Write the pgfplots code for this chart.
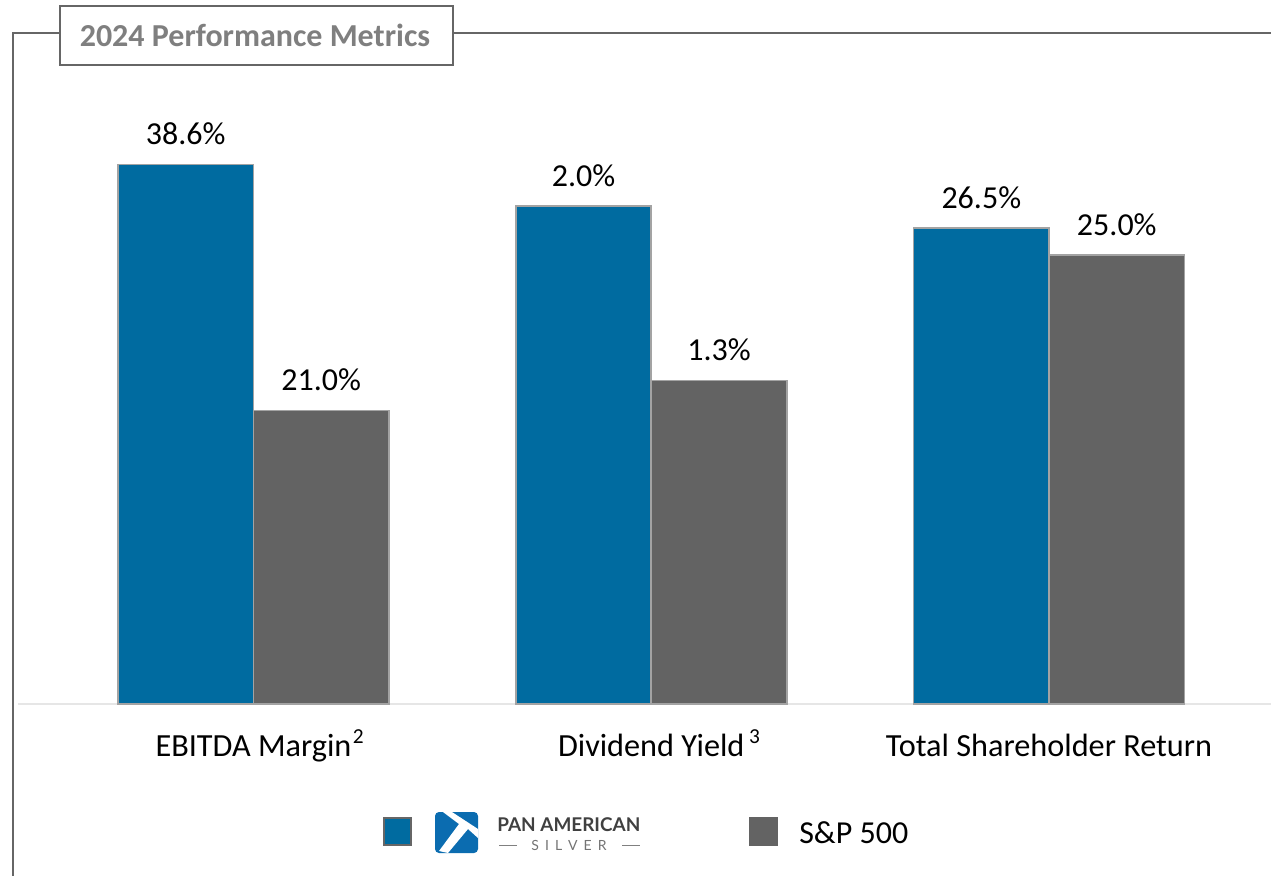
\documentclass[border=0pt]{standalone}
\usepackage{pgfplots}
\pgfplotsset{compat=1.18}
\usepackage{fontspec}
\setmainfont{Carlito}
\newfontfamily\logofont{Lato}
\definecolor{pasblue}{HTML}{006BA0}
\definecolor{logoblue}{HTML}{0B6CB0}
\definecolor{spgray}{HTML}{636363}
\definecolor{barline}{HTML}{A3A3A3}
\definecolor{frameline}{HTML}{666666}
\definecolor{titlegray}{HTML}{7F7F7F}
\definecolor{baseline}{HTML}{E6E6E6}
\newcommand{\supmark}[2]{\rlap{\hspace{#1}\raisebox{9.75pt}{\fontsize{16}{18}\selectfont #2}}}
\pgfplotsset{
  panel/.style={
    at={(13.5pt,-528pt)},anchor=south west,
    scale only axis,width=939.75pt,height=528pt,
    xmin=-0.592,xmax=2.558,ymin=0,
    ybar,bar width=101.6pt,
    clip=false,
    /pgf/number format/assume math mode=true,
    nodes near coords={\pgfmathprintnumber[fixed,fixed zerofill,precision=1]{\pgfplotspointmeta}\%},
    every node near coord/.append style={font=\fontsize{24}{28}\selectfont,text=black,inner sep=0pt,yshift=14.7pt,anchor=base},
  },
  pas/.style={fill=pasblue,draw=barline,line width=1.3pt,bar shift=-50.8pt},
  sp/.style={fill=spgray,draw=barline,line width=1.3pt,bar shift=50.8pt},
}
\begin{document}
\begin{tikzpicture}[x=0.75pt,y=-0.75pt]
\useasboundingbox (0,0) rectangle (1271,876);
\clip (0,0) rectangle (1271,876);
% frame
\draw[frameline,line width=1.9pt] (60,33) -- (13,33) -- (13,876);
\draw[frameline,line width=1.9pt] (453,33) -- (1271,33);

% EBITDA margin, its own scale
\begin{axis}[panel,ymax=50.37,
  axis y line=none,axis x line=bottom,
  every outer x axis line/.append style={draw=baseline,line width=1.5pt,-},
  major tick length=0pt,xtick={0,1,2},
  xticklabels={EBITDA Margin\supmark{1pt}{2},Dividend Yield\supmark{3.5pt}{3},Total Shareholder Return},
  xticklabel style={font=\fontsize{24.2}{28}\selectfont,text=black,inner sep=0pt,anchor=base,yshift=-39.5pt}]
\addplot[pas] coordinates {(0,38.6)};
\addplot[sp] coordinates {(0,21.0)};
\end{axis}
% Dividend yield, its own scale
\begin{axis}[panel,ymax=2.828,hide axis]
\addplot[pas] coordinates {(1,2.0)};
\addplot[sp] coordinates {(1,1.3)};
\end{axis}
% Total shareholder return, its own scale
\begin{axis}[panel,ymax=39.22,hide axis]
\addplot[pas] coordinates {(2,26.5)};
\addplot[sp] coordinates {(2,25.0)};
\end{axis}

% title box
\draw[frameline,line width=1.9pt,fill=white] (60,6) rectangle (453,65);
\node[font=\fontsize{24}{28}\selectfont\bfseries,text=titlegray,inner sep=0pt] at (255,35.5) {2024 Performance Metrics};

% legend
\draw[frameline,line width=1.9pt,fill=pasblue] (384,818) rectangle (411,845);
\fill[spgray] (749,817) rectangle (778,846);
\node[font=\fontsize{24}{28}\selectfont,text=black,inner sep=0pt,anchor=west] at (799,833) {S\&P 500};
% logo
\fill[rounded corners=3pt,logoblue] (435,812) rectangle (478,853);
\fill[white] (443,812) -- (452,812) -- (478,829) -- (478,838) -- (468,829) -- (448,853) -- (439,851) -- (459,824) -- cycle;
\node[font=\logofont\bfseries\fontsize{14.2}{15}\selectfont,text=black!75,inner sep=0pt,anchor=west] at (497,825) {PAN AMERICAN};
\node[font=\logofont\fontsize{10.5}{11}\selectfont,text=black!55,inner sep=0pt] at (569,845) {S\hspace{4.5pt}I\hspace{4.5pt}L\hspace{4.5pt}V\hspace{4.5pt}E\hspace{4.5pt}R};
\draw[black!50,line width=0.7pt] (499,845) -- (517,845) (622,845) -- (640,845);
\end{tikzpicture}
\end{document}
